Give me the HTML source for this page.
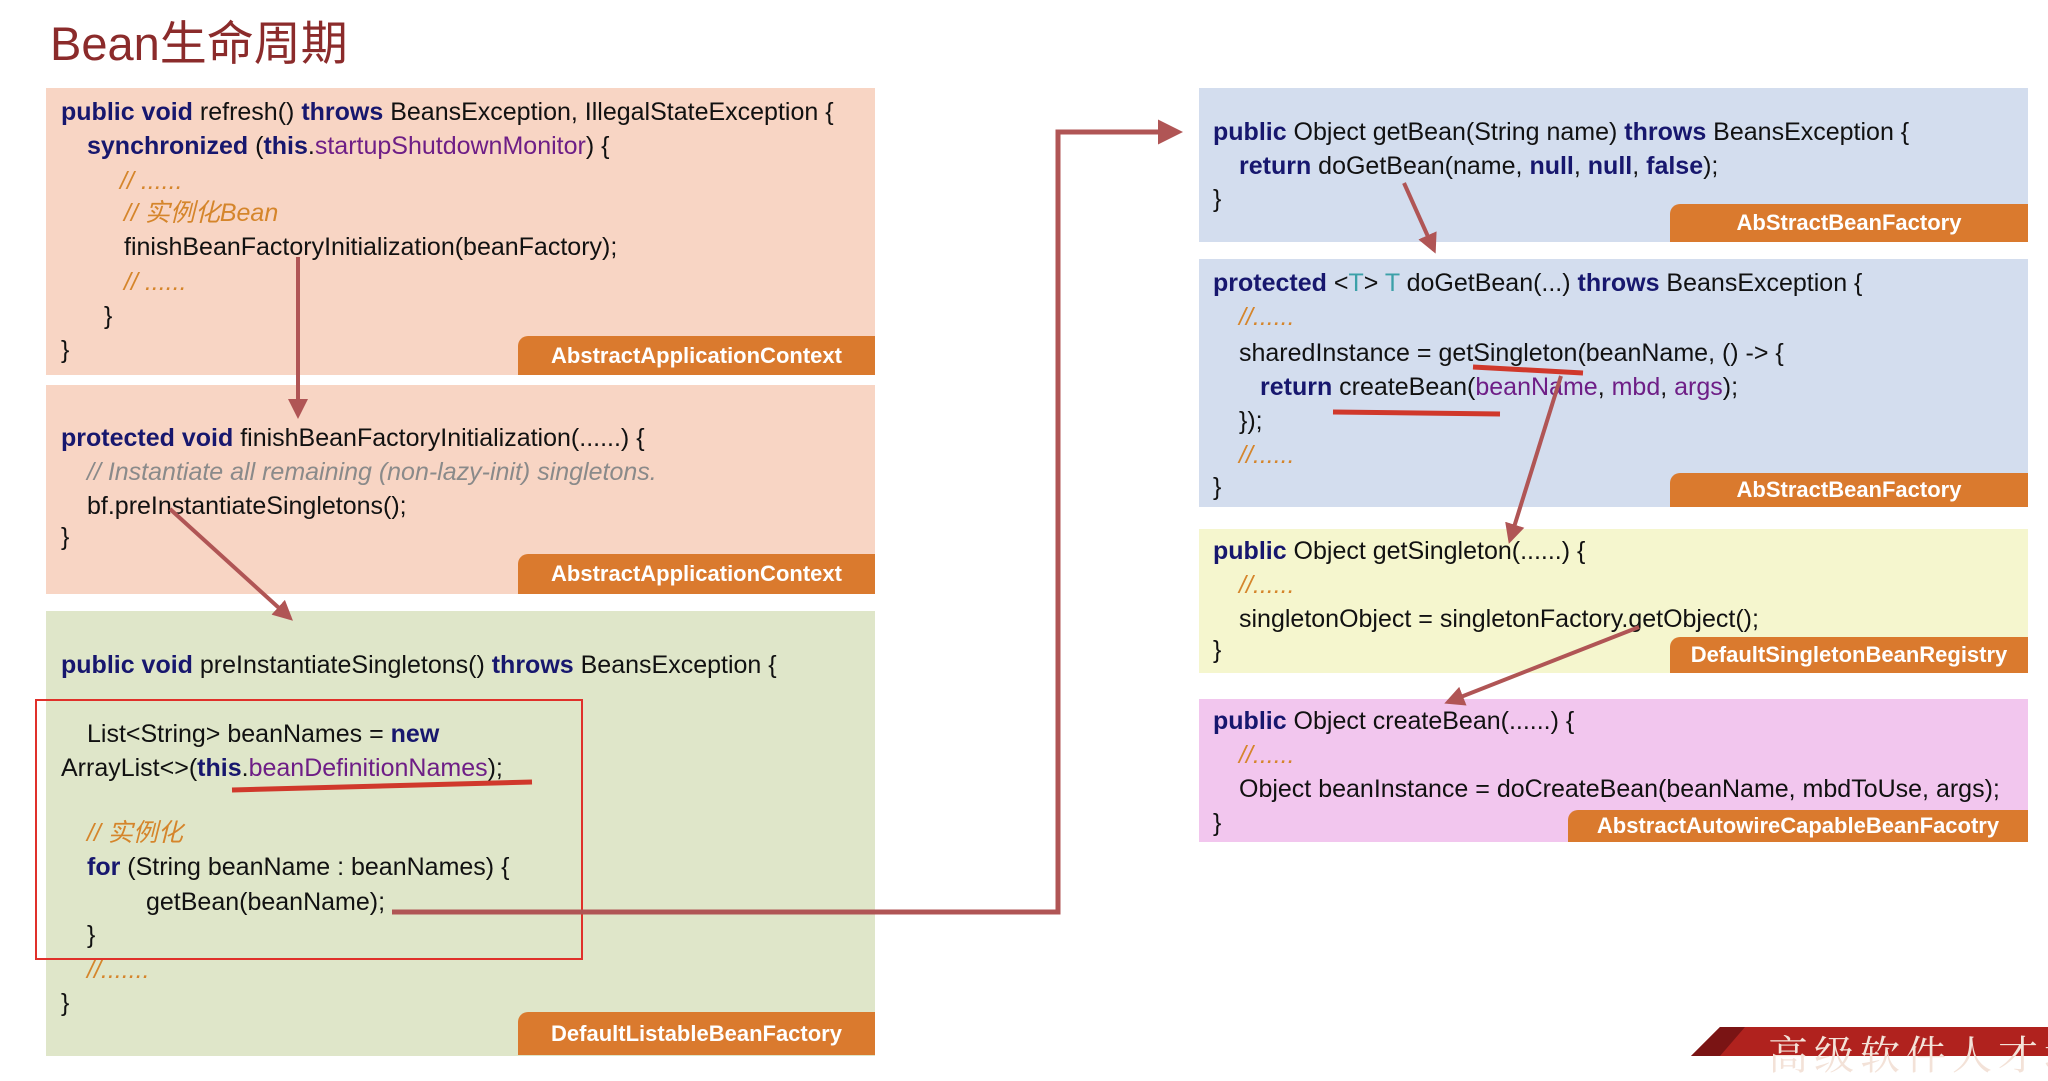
<!DOCTYPE html>
<html><head><meta charset="utf-8"><style>
*{margin:0;padding:0;box-sizing:border-box}
body{width:2048px;height:1056px;background:#fff;position:relative;overflow:hidden;font-family:"Liberation Sans","Noto Sans CJK SC",sans-serif}
.box{position:absolute}
.lbl{position:absolute;background:#DA7A2E;color:#fff;font-weight:bold;font-size:22px;text-align:center;border-radius:10px 0 0 0;display:flex;align-items:center;justify-content:center;white-space:nowrap}
.l{position:absolute;font-size:25px;color:#111;white-space:nowrap;line-height:30px;transform:translateY(-15px)}
.k{color:#17176E;font-weight:bold}
.p{color:#6E1E86}
.c{color:#D5852B;font-style:italic}
.g{color:#8A8A8A;font-style:italic}
.t{color:#3BA0A8}
</style></head><body>
<div class="l" style="left:50px;top:44px;font-size:47px;line-height:50px;color:#8B2B2B;transform:translateY(-25px)">Bean生命周期</div>

<div class="box" style="left:46px;top:88px;width:829px;height:287px;background:#F8D5C4"></div>
<div class="lbl" style="left:518px;top:336px;width:357px;height:39px">AbstractApplicationContext</div>
<div class="box" style="left:46px;top:385px;width:829px;height:209px;background:#F8D5C4"></div>
<div class="lbl" style="left:518px;top:554px;width:357px;height:40px">AbstractApplicationContext</div>
<div class="box" style="left:46px;top:611px;width:829px;height:445px;background:#DFE6C9"></div>
<div class="lbl" style="left:518px;top:1012px;width:357px;height:43px">DefaultListableBeanFactory</div>

<div class="box" style="left:1199px;top:88px;width:829px;height:154px;background:#D3DDEE"></div>
<div class="lbl" style="left:1670px;top:204px;width:358px;height:38px">AbStractBeanFactory</div>
<div class="box" style="left:1199px;top:259px;width:829px;height:248px;background:#D3DDEE"></div>
<div class="lbl" style="left:1670px;top:473px;width:358px;height:34px">AbStractBeanFactory</div>
<div class="box" style="left:1199px;top:529px;width:829px;height:144px;background:#F5F6CE"></div>
<div class="lbl" style="left:1670px;top:637px;width:358px;height:36px">DefaultSingletonBeanRegistry</div>
<div class="box" style="left:1199px;top:699px;width:829px;height:143px;background:#F2C6EE"></div>
<div class="lbl" style="left:1568px;top:810px;width:460px;height:32px">AbstractAutowireCapableBeanFacotry</div>

<div class="box" style="left:35px;top:699px;width:548px;height:261px;border:2px solid #E0302A"></div>

<!-- box1 -->
<div class="l" style="left:61px;top:112px"><span class="k">public void</span> refresh() <span class="k">throws</span> BeansException, IllegalStateException {</div>
<div class="l" style="left:87px;top:146px"><span class="k">synchronized</span> (<span class="k">this</span>.<span class="p">startupShutdownMonitor</span>) {</div>
<div class="l" style="left:120px;top:181px"><span class="c">// ......</span></div>
<div class="l" style="left:124px;top:213px"><span class="c">// 实例化Bean</span></div>
<div class="l" style="left:124px;top:247px">finishBeanFactoryInitialization(beanFactory);</div>
<div class="l" style="left:124px;top:282px"><span class="c">// ......</span></div>
<div class="l" style="left:104px;top:316px">}</div>
<div class="l" style="left:61px;top:350px">}</div>
<!-- box2 -->
<div class="l" style="left:61px;top:438px"><span class="k">protected void</span> finishBeanFactoryInitialization(......) {</div>
<div class="l" style="left:87px;top:472px"><span class="g">// Instantiate all remaining (non-lazy-init) singletons.</span></div>
<div class="l" style="left:87px;top:506px">bf.preInstantiateSingletons();</div>
<div class="l" style="left:61px;top:537px">}</div>
<!-- box3 -->
<div class="l" style="left:61px;top:665px"><span class="k">public void</span> preInstantiateSingletons() <span class="k">throws</span> BeansException {</div>
<div class="l" style="left:87px;top:734px">List&lt;String&gt; beanNames = <span class="k">new</span></div>
<div class="l" style="left:61px;top:768px">ArrayList&lt;&gt;(<span class="k">this</span>.<span class="p">beanDefinitionNames</span>);</div>
<div class="l" style="left:87px;top:833px"><span class="c">// 实例化</span></div>
<div class="l" style="left:87px;top:867px"><span class="k">for</span> (String beanName : beanNames) {</div>
<div class="l" style="left:146px;top:902px">getBean(beanName);</div>
<div class="l" style="left:87px;top:935px">}</div>
<div class="l" style="left:87px;top:970px"><span class="c">//.......</span></div>
<div class="l" style="left:61px;top:1003px">}</div>
<!-- right A -->
<div class="l" style="left:1213px;top:132px"><span class="k">public</span> Object getBean(String name) <span class="k">throws</span> BeansException {</div>
<div class="l" style="left:1239px;top:166px"><span class="k">return</span> doGetBean(name, <span class="k">null</span>, <span class="k">null</span>, <span class="k">false</span>);</div>
<div class="l" style="left:1213px;top:199px">}</div>
<!-- B -->
<div class="l" style="left:1213px;top:283px"><span class="k">protected</span> &lt;<span class="t">T</span>&gt; <span class="t">T</span> doGetBean(...) <span class="k">throws</span> BeansException {</div>
<div class="l" style="left:1239px;top:317px"><span class="c">//......</span></div>
<div class="l" style="left:1239px;top:353px">sharedInstance = getSingleton(beanName, () -&gt; {</div>
<div class="l" style="left:1260px;top:387px"><span class="k">return</span> createBean(<span class="p">beanName</span>, <span class="p">mbd</span>, <span class="p">args</span>);</div>
<div class="l" style="left:1239px;top:421px">});</div>
<div class="l" style="left:1239px;top:455px"><span class="c">//......</span></div>
<div class="l" style="left:1213px;top:487px">}</div>
<!-- C -->
<div class="l" style="left:1213px;top:551px"><span class="k">public</span> Object getSingleton(......) {</div>
<div class="l" style="left:1239px;top:585px"><span class="c">//......</span></div>
<div class="l" style="left:1239px;top:619px">singletonObject = singletonFactory.getObject();</div>
<div class="l" style="left:1213px;top:650px">}</div>
<!-- D -->
<div class="l" style="left:1213px;top:721px"><span class="k">public</span> Object createBean(......) {</div>
<div class="l" style="left:1239px;top:755px"><span class="c">//......</span></div>
<div class="l" style="left:1239px;top:789px">Object beanInstance = doCreateBean(beanName, mbdToUse, args);</div>
<div class="l" style="left:1213px;top:823px">}</div>

<svg width="2048" height="1056" style="position:absolute;left:0;top:0">
<defs><marker id="a" markerWidth="5" markerHeight="5" refX="4" refY="2.5" orient="auto"><path d="M0,0L5,2.5L0,5z" fill="#B05555"/></marker></defs>
<g stroke="#B05555" stroke-width="4" fill="none" marker-end="url(#a)">
<line x1="298" y1="257" x2="298" y2="415"/>
<line x1="170" y1="509" x2="290" y2="618"/>
<polyline points="392,912 1058,912 1058,132 1178,132" stroke-width="5"/>
<line x1="1404" y1="183" x2="1434" y2="250"/>
<line x1="1561" y1="376" x2="1510" y2="540"/>
<line x1="1639" y1="627" x2="1448" y2="702"/>
</g>
<g stroke="#D0382B" stroke-width="5" fill="none">
<line x1="1473" y1="367" x2="1583" y2="373"/>
<line x1="1333" y1="412" x2="1500" y2="414"/>
<line x1="232" y1="790" x2="532" y2="782"/>
</g>
<polygon points="1720,1027 2048,1027 2048,1056 1691,1056" fill="#B0221E"/>
<polygon points="1720,1027 1745,1027 1720,1056 1691,1056" fill="#7A1414"/>
</svg>
<div class="l" style="left:1768px;top:1043px;font-size:40px;line-height:50px;color:#F3E2D8;font-family:'Noto Serif CJK SC',serif;letter-spacing:6px">高级软件人才培训</div>
</body></html>
